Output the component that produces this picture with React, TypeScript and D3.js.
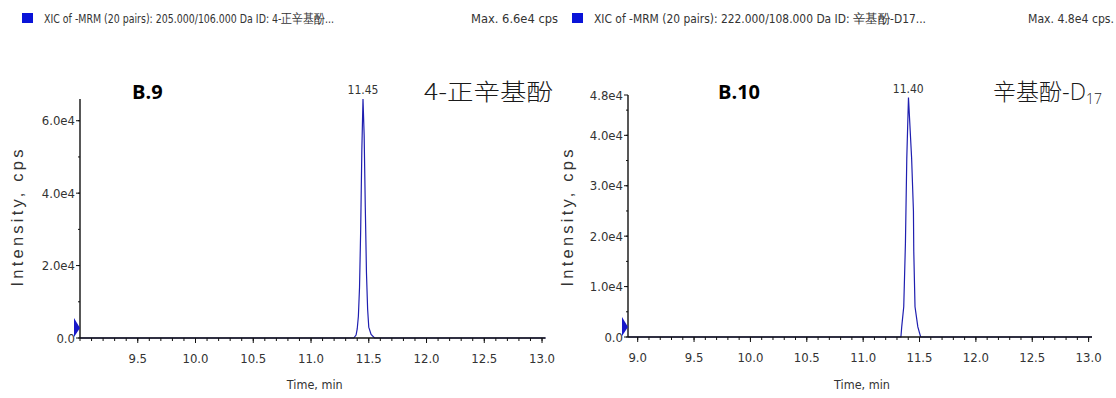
import React from 'react';
import * as d3 from 'd3';

// ---------- data ----------
const peakTimes9 = [9.0, 11.37, 11.39, 11.40, 11.41, 11.42, 11.43, 11.44, 11.45, 11.46, 11.47, 11.48, 11.49, 11.50, 11.52, 11.55, 13.03];
const peakInts9 = [0, 0, 800, 2500, 6000, 14000, 30000, 52000, 66000, 56000, 36000, 18000, 8000, 3000, 1000, 0, 0];

const peakTimes10 = [8.914, 11.335, 11.342, 11.36, 11.375, 11.387, 11.402, 11.43, 11.446, 11.449, 11.46, 11.485, 11.51, 13.03];
const peakInts10 = [0, 0, 2000, 6000, 18600, 35400, 47500, 35400, 25000, 17000, 6000, 2000, 0, 0];

const xTicks9 = [9.5, 10.0, 10.5, 11.0, 11.5, 12.0, 12.5, 13.0];
const xTicks10 = [9.0, 9.5, 10.0, 10.5, 11.0, 11.5, 12.0, 12.5, 13.0];
const yTicks9 = [0, 20000, 40000, 60000];
const yTickLabels9 = ['0.0', '2.0e4', '4.0e4', '6.0e4'];
const yTicks10 = [0, 10000, 20000, 30000, 40000, 48000];
const yTickLabels10 = ['0.0', '1.0e4', '2.0e4', '3.0e4', '4.0e4', '4.8e4'];

const header9 = 'XIC of -MRM (20 pairs): 205.000/106.000 Da ID: 4-正辛基酚...';
const header10 = 'XIC of -MRM (20 pairs): 222.000/108.000 Da ID: 辛基酚-D17...';
const max9 = 'Max. 6.6e4 cps';
const max10 = 'Max. 4.8e4 cps.';
const peakLabel9 = '11.45';
const peakLabel10 = '11.40';
const peakApex9 = 11.45;
const peakApex10 = 11.40;
const panelTag9 = 'B.9';
const panelTag10 = 'B.10';

const NARROW = "'Liberation Sans Narrow', 'Arial Narrow', 'DejaVu Sans Condensed', 'Liberation Sans', sans-serif";
const LINE_BLUE = '#1f1fb0';

type PanelProps = {
  ox: number;
  axL: number; axR: number; axTop: number; axBase: number;
  xDomain: [number, number]; yDomain: [number, number];
  xTicks: number[]; yTicks: number[]; yLabels: string[]; yMinorStep: number;
  times: number[]; ints: number[];
  header: string; headerLen: number; maxText: string; maxX: number; maxLen: number;
  peakLabel: string; apex: number;
  tag: string; tagX: number;
  name: React.ReactNode;
};

function Panel(p: PanelProps) {
  const x = d3.scaleLinear().domain(p.xDomain).range([p.axL, p.axR]);
  const y = d3.scaleLinear().domain(p.yDomain).range([p.axBase, p.axTop]);
  const pts: [number, number][] = p.times.map((t, i) => [t, p.ints[i]]);
  const line = d3.line<[number, number]>().x(d => x(d[0])).y(d => y(d[1]));
  const minorX = d3.range(Math.ceil(p.xDomain[0] * 10), Math.floor(p.xDomain[1] * 10) + 1).map(v => v / 10);
  const minorY = d3.range(0, p.yDomain[1] + 1, p.yMinorStep);
  const apexVal = d3.max(p.ints) as number;
  return (
    <g>
      {/* header */}
      <rect x={p.ox + 22} y={13} width={11} height={10} fill="#0a14d8" />
      <text x={p.ox + 44} y={23} fontFamily={NARROW} fontSize={12.5} fill="#333" textLength={p.headerLen} lengthAdjust="spacingAndGlyphs">{p.header}</text>
      <text x={p.maxX - p.maxLen} y={23} fontFamily={NARROW} fontSize={12.5} fill="#333" textLength={p.maxLen} lengthAdjust="spacingAndGlyphs">{p.maxText}</text>

      {/* data */}
      <path d={line(pts) || ''} fill="none" stroke={LINE_BLUE} strokeWidth={1.2} />

      {/* axes */}
      <line x1={p.axL} x2={p.axR} y1={p.axBase} y2={p.axBase} stroke="#111" strokeWidth={1.4} />
      <line x1={p.axL} x2={p.axL} y1={p.axTop} y2={p.axBase} stroke="#111" strokeWidth={1.4} />
      {minorX.map(v => (
        <line key={'mx' + v} x1={x(v)} x2={x(v)} y1={p.axBase} y2={p.axBase + 3} stroke="#111" strokeWidth={1} />
      ))}
      {p.xTicks.map(v => (
        <g key={'tx' + v}>
          <line x1={x(v)} x2={x(v)} y1={p.axBase} y2={p.axBase + 5} stroke="#111" strokeWidth={1} />
          <text x={x(v)} y={p.axBase + 25} fontFamily={NARROW} fontSize={13} fill="#333" textAnchor="middle">{v.toFixed(1)}</text>
        </g>
      ))}
      {minorY.map(v => (
        <line key={'my' + v} x1={p.axL - 2} x2={p.axL} y1={y(v)} y2={y(v)} stroke="#111" strokeWidth={1} />
      ))}
      {p.yTicks.map((v, i) => (
        <g key={'ty' + v}>
          <line x1={p.axL - 4} x2={p.axL} y1={y(v)} y2={y(v)} stroke="#111" strokeWidth={1} />
          <text x={p.axL - 5} y={y(v) + 4.5} fontFamily={NARROW} fontSize={13} fill="#333" textAnchor="end">{p.yLabels[i]}</text>
        </g>
      ))}
      {/* start marker */}
      <path d={`M${p.axL - 6},${p.axBase - 20} L${p.axL},${p.axBase - 10} L${p.axL - 6},${p.axBase - 1} Z`} fill="#1818c8" />

      {/* axis titles */}
      <text transform={`translate(${p.ox + 23},${218}) rotate(-90)`} fontFamily="'Liberation Sans', Arial, sans-serif" fontSize={16.5} fill="#333" textAnchor="middle" textLength={137} lengthAdjust="spacing">Intensity, cps</text>
      <text x={(p.axL + p.axR) / 2 + 2} y={389} fontFamily={NARROW} fontSize={12.5} fill="#333" textAnchor="middle">Time, min</text>

      {/* peak label */}
      <text x={x(p.apex)} y={y(apexVal) - 5} fontFamily={NARROW} fontSize={12} fill="#333" textAnchor="middle">{p.peakLabel}</text>

      {/* tag and compound name */}
      <text x={p.tagX} y={99} fontFamily="'Open Sans', 'Noto Sans', sans-serif" fontWeight="bold" fontSize={20} fill="#000">{p.tag}</text>
      {p.name}
    </g>
  );
}

export default function App() {
  return (
    <svg width={1116} height={398} style={{ position: 'absolute', left: 0, top: 0, background: '#fff' }}>
      <rect x={0} y={0} width={1116} height={398} fill="#fff" />
      <Panel
        ox={0}
        axL={80} axR={545.5} axTop={99} axBase={338}
        xDomain={[9.0, 13.03]} yDomain={[0, 66000]}
        xTicks={xTicks9} yTicks={yTicks9} yLabels={yTickLabels9} yMinorStep={10000}
        times={peakTimes9} ints={peakInts9}
        header={header9} headerLen={290} maxText={max9} maxX={558} maxLen={87}
        peakLabel={peakLabel9} apex={peakApex9}
        tag={panelTag9} tagX={132}
        name={<text x={424} y={100} fontFamily="'Noto Sans CJK SC', sans-serif" fontWeight={300} fontSize={23} fill="#1a1a1a" textLength={129} lengthAdjust="spacingAndGlyphs">4-正辛基酚</text>}
      />
      <Panel
        ox={550}
        axL={628} axR={1092} axTop={95} axBase={337}
        xDomain={[8.914, 13.03]} yDomain={[0, 48000]}
        xTicks={xTicks10} yTicks={yTicks10} yLabels={yTickLabels10} yMinorStep={5000}
        times={peakTimes10} ints={peakInts10}
        header={header10} headerLen={332} maxText={max10} maxX={1114} maxLen={86}
        peakLabel={peakLabel10} apex={peakApex10}
        tag={panelTag10} tagX={718}
        name={<text x={993} y={100} fontFamily="'Noto Sans CJK SC', sans-serif" fontWeight={300} fontSize={23} fill="#1a1a1a">辛基酚-<tspan fontFamily="'Open Sans', 'Noto Sans', sans-serif">D</tspan><tspan fontFamily="'Open Sans', 'Noto Sans', sans-serif" fontSize={14} dy={4}>17</tspan></text>}
      />
    </svg>
  );
}
